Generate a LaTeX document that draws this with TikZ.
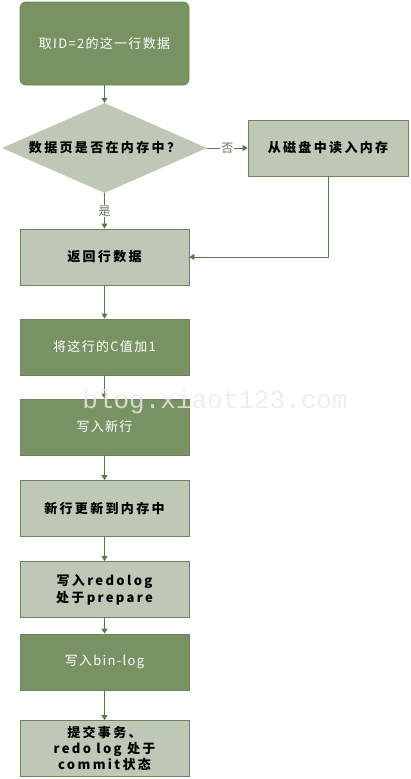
\documentclass[tikz,border=0pt]{standalone}
\usepackage{fontspec}
\setmainfont{Noto Sans CJK SC}
\newfontfamily\cjk[LetterSpace=18]{Noto Sans CJK SC}
\newfontfamily\cjkn[LetterSpace=10]{Noto Sans CJK SC}
\newfontfamily\wmfont{Liberation Mono}
\usetikzlibrary{shapes.geometric,arrows.meta}
\definecolor{dkg}{HTML}{799263}
\definecolor{ltg}{HTML}{BFC8B6}
\definecolor{edg}{HTML}{6B8558}
\definecolor{ln}{HTML}{5E7550}
\definecolor{wmc}{HTML}{EFE9E9}
\begin{document}
\begin{tikzpicture}[x=1pt,y=-1pt,
  box/.style={draw=edg,line width=0.8pt,minimum width=169pt,minimum height=56pt,inner sep=2pt,align=center,font=\cjkn\fontsize{13}{17}\selectfont},
  darkbox/.style={box,fill=dkg,text=white},
  lightbox/.style={box,fill=ltg,text=black,font=\cjk\bfseries\fontsize{13}{17}\selectfont},
  conn/.style={draw=ln,line width=0.8pt,-{Triangle[length=5pt,width=6pt]}},
  lbl/.style={fill=white,inner sep=1pt,text=ln,font=\cjkn\fontsize{12}{14}\selectfont}]
\useasboundingbox (0,0) rectangle (411,779);
\node[darkbox,rounded corners=6pt,minimum height=83pt] (a) at (104.5,43.5) {取ID=2的这一行数据};
\node[diamond,draw=none,fill=ltg,minimum width=205pt,minimum height=90pt,inner sep=0pt,text width=0pt] (d) at (104.5,148) {};
\node[font=\cjk\bfseries\fontsize{13}{17}\selectfont] (dt) at (104.5,148) {数据页是否在内存中？};
\node[lightbox,minimum width=160pt] (r) at (328,148) {从磁盘中读入内存};
\node[lightbox] (b) at (104.5,257) {返回行数据};
\node[darkbox] (c) at (104.5,347) {将这行的C值加1};
\node[darkbox] (e) at (104.5,427) {写入新行};
\node[lightbox] (f) at (104.5,508.5) {新行更新到内存中};
\node[lightbox] (g) at (104.5,589.5) {写入redolog\\处于prepare};
\node[darkbox] (h) at (104.5,662) {写入bin-log};
\node[lightbox,font=\cjk\bfseries\fontsize{13}{16}\selectfont] (k) at (104.5,748.5) {提交事务、\\redo log 处于\\commit状态};
\draw[conn] (a) -- (d);
\draw[conn] (d.south) -- node[lbl] {是} (b);
\draw[conn] (d.east) -- node[lbl] {否} (r.west);
\draw[conn] (r.south) |- (b.east);
\draw[conn] (b) -- (c);
\draw[conn] (c) -- (e);
\draw[conn] (e) -- (f);
\draw[conn] (f) -- (g);
\draw[conn] (g) -- (h);
\draw[conn] (h) -- (k);
\node[text=wmc,text opacity=0.8,font=\wmfont\fontsize{26}{28}\selectfont] (wmk) at (215,402) {blog.xiaot123.com};
\end{tikzpicture}
\end{document}
